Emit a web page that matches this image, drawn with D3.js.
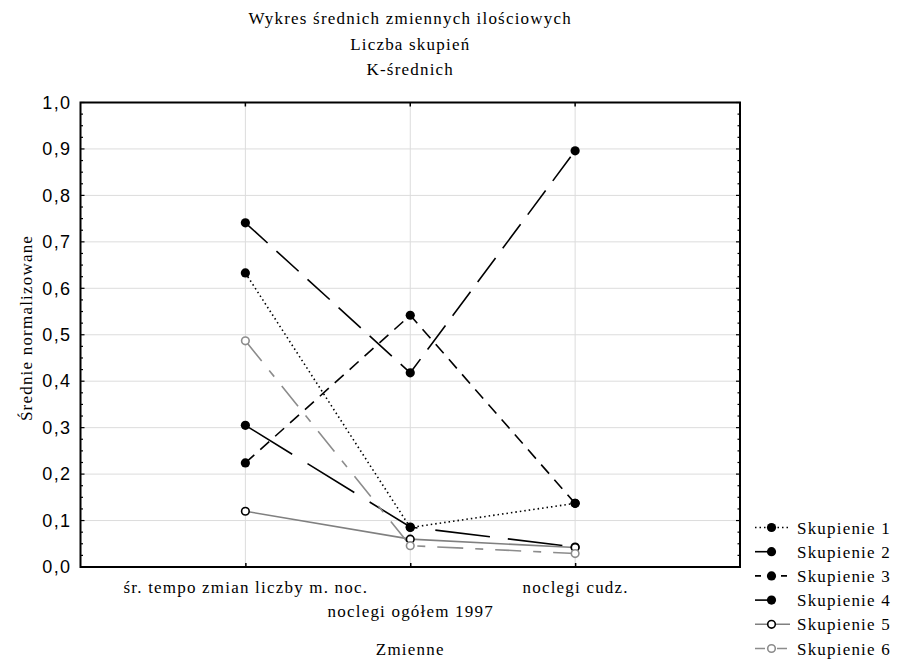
<!DOCTYPE html>
<html><head><meta charset="utf-8">
<script src="https://cdn.jsdelivr.net/npm/d3@7"></script>
<style>
body{margin:0;background:#fff;}
svg{display:block;}
</style></head>
<body>
<svg id="c" width="898" height="659"></svg>
<script>
const titleLines = ["Wykres średnich zmiennych ilościowych", "Liczba skupień", "K-średnich"];
const categories = ["śr. tempo zmian liczby m. noc.", "noclegi ogółem 1997", "noclegi cudz."];
const seriesNames = ["Skupienie 1", "Skupienie 2", "Skupienie 3", "Skupienie 4", "Skupienie 5", "Skupienie 6"];
const s1 = [0.633, 0.085, 0.137];
const s2 = [0.741, 0.418, 0.896];
const s3 = [0.224, 0.542, 0.137];
const s4 = [0.305, 0.086, 0.043];
const s5 = [0.120, 0.060, 0.042];
const s6 = [0.487, 0.046, 0.029];
const yTicks = [0, 0.1, 0.2, 0.3, 0.4, 0.5, 0.6, 0.7, 0.8, 0.9, 1.0];
const xTitle = "Zmienne";
const yTitle = "Średnie normalizowane";

const SERIF = "Liberation Serif";
function serif(sel) {
  return sel.attr("font-family", SERIF).attr("font-size", 17)
    .style("letter-spacing", "1.2px").attr("fill", "#000");
}

const seriesValues = [s1, s2, s3, s4, s5, s6];
const styles = [
  {stroke:"#000", dash:"1.5,3", fill:"#000", mstroke:"#000", open:false},
  {stroke:"#000", dash:"30,12", fill:"#000", mstroke:"#000", open:false},
  {stroke:"#000", dash:"12,8", fill:"#000", mstroke:"#000", open:false},
  {stroke:"#000", dash:"55,18", fill:"#000", mstroke:"#000", open:false},
  {stroke:"#808080", dash:null, fill:"#fff", mstroke:"#000", open:true},
  {stroke:"#8c8c8c", dash:"26,12,8,12", fill:"#fff", mstroke:"#8c8c8c", open:true}
];

const svg = d3.select("#c");
const L = 80.5, R = 740, T = 102.5, B = 567;
const x = d3.scaleLinear().domain([0, 4]).range([L, R]);
const y = d3.scaleLinear().domain([0, 1]).range([B, T]);
const xi = i => x(i + 1);

// grid
const g = svg.append("g");
g.selectAll(".hg").data(yTicks.slice(1, -1)).join("line")
  .attr("x1", L).attr("x2", R).attr("y1", d => y(d)).attr("y2", d => y(d))
  .attr("stroke", "#dcdcdc").attr("stroke-width", 1);
g.selectAll(".vg").data(categories).join("line")
  .attr("x1", (d, i) => xi(i)).attr("x2", (d, i) => xi(i)).attr("y1", T).attr("y2", B)
  .attr("stroke", "#dcdcdc").attr("stroke-width", 1);

// minor/major ticks left & right (inward)
const minor = d3.range(0, 41).map(i => i / 40);
const ax = svg.append("g");
function yTickAxis(xpos, dir) {
  const gg = ax.append("g");
  gg.selectAll("line").data(minor).join("line")
    .attr("x1", xpos).attr("x2", d => xpos + dir * ((Math.round(d * 40) % 4 === 0) ? 4 : 2.5))
    .attr("y1", d => y(d)).attr("y2", d => y(d)).attr("stroke", "#000").attr("stroke-width", 1.2);
}
yTickAxis(L, 1);
yTickAxis(R, -1);

// y labels via d3 axis
const yAxis = d3.axisLeft(y).tickValues(yTicks).tickSize(0).tickPadding(9)
  .tickFormat(d => d3.format(".1f")(d).replace(".", ","));
const yg = svg.append("g").attr("transform", `translate(${L},0)`).call(yAxis);
yg.select(".domain").remove();
yg.selectAll("text").attr("font-family", "Liberation Sans")
  .attr("font-size", 18).style("letter-spacing", "1.4px").attr("fill", "#000");

// x axis with ticks
const xAxis = d3.axisBottom(x).tickValues([1, 2, 3]).tickSize(-4).tickPadding(0)
  .tickFormat(d => categories[d - 1]);
const xg = svg.append("g").attr("transform", `translate(0,${B})`).call(xAxis);
xg.select(".domain").remove();
xg.selectAll("line").attr("stroke", "#000").attr("stroke-width", 1.5);
serif(xg.selectAll("text")).attr("dy", null)
  .attr("y", (d, i) => (i === 1 ? 50 : 26));
// top ticks
svg.append("g").selectAll("line").data(categories).join("line")
  .attr("x1", (d, i) => xi(i)).attr("x2", (d, i) => xi(i)).attr("y1", T).attr("y2", T + 4)
  .attr("stroke", "#000").attr("stroke-width", 1.5);

// frame
svg.append("rect").attr("x", L).attr("y", T).attr("width", R - L).attr("height", B - T)
  .attr("fill", "none").attr("stroke", "#000").attr("stroke-width", 2);

// lines
const line = d3.line().x((d, i) => xi(i)).y(d => y(d));
const lg = svg.append("g");
seriesValues.forEach((vals, k) => {
  const st = styles[k];
  lg.append("path").datum(vals).attr("d", line).attr("fill", "none")
    .attr("stroke", st.stroke).attr("stroke-width", 1.6)
    .attr("stroke-dasharray", st.dash);
});
seriesValues.forEach((vals, k) => {
  const st = styles[k];
  lg.selectAll(null).data(vals).join("circle")
    .attr("cx", (d, i) => xi(i)).attr("cy", d => y(d))
    .attr("r", st.open ? 3.8 : 4.6)
    .attr("fill", st.fill).attr("stroke", st.mstroke).attr("stroke-width", st.open ? 1.6 : 0);
});

// titles
serif(svg.append("g").selectAll("text").data(titleLines).join("text"))
  .attr("x", (L + R) / 2).attr("y", (d, i) => 24 + i * 25.5).attr("text-anchor", "middle").text(d => d);
serif(svg.append("text")).attr("x", (L + R) / 2).attr("y", 655)
  .attr("text-anchor", "middle").text(xTitle);
serif(svg.append("text")).attr("transform", "translate(32,328) rotate(-90)")
  .attr("text-anchor", "middle").text(yTitle);

// legend
const leg = svg.append("g");
const legendSeg = [[755, 790], [755, 772], [755, 790], [755, 772], [755, 790], [755, 790]];
seriesNames.forEach((name, k) => {
  const st = styles[k];
  const cy = 527.5 + k * 24.2;
  const seg = legendSeg[k];
  leg.append("line").attr("x1", seg[0]).attr("x2", seg[1]).attr("y1", cy).attr("y2", cy)
    .attr("stroke", st.stroke).attr("stroke-width", 1.6)
    .attr("stroke-dasharray", k === 0 ? "1.5,3" : (k === 2 ? "6,7" : (k === 5 ? "10,12" : null)));
  leg.append("circle").attr("cx", 771.5).attr("cy", cy).attr("r", st.open ? 3.8 : 4.6)
    .attr("fill", st.fill).attr("stroke", st.mstroke).attr("stroke-width", st.open ? 1.6 : 0);
  serif(leg.append("text")).attr("x", 797).attr("y", cy + 6).text(name);
});
</script>
</body></html>
